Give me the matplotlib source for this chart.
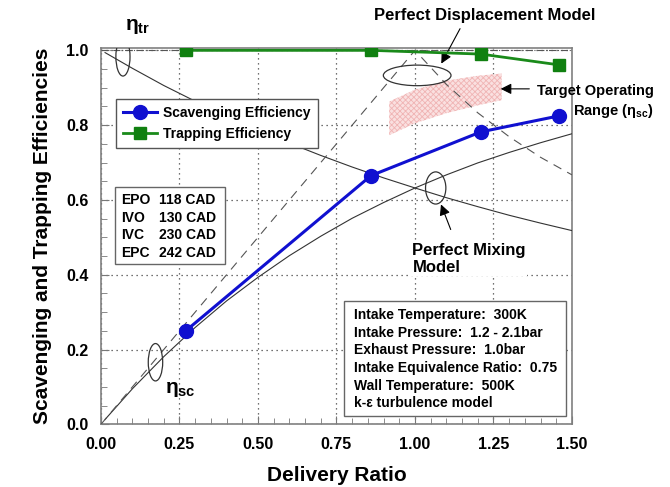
import numpy as np
import matplotlib
matplotlib.use('Agg')
import matplotlib.pyplot as plt
from matplotlib.patches import Ellipse, Rectangle

plt.rcParams['font.family'] = ['Liberation Sans', 'DejaVu Sans']
plt.rcParams['font.weight'] = 'bold'
plt.rcParams['axes.labelweight'] = 'bold'
plt.rcParams['hatch.linewidth'] = 0.6
plt.rcParams['mathtext.fontset'] = 'custom'
plt.rcParams['mathtext.rm'] = 'Liberation Sans:bold'
plt.rcParams['mathtext.it'] = 'Liberation Sans:bold'
plt.rcParams['mathtext.bf'] = 'Liberation Sans:bold'

# CFD results
delivery_ratio = [0.27, 0.86, 1.21, 1.46]
scavenging_eff = [0.25, 0.665, 0.782, 0.825]
trapping_eff = [1.0, 1.0, 0.99, 0.961]

# perfect mixing model
mix_dr = [0.013, 0.1, 0.2, 0.3, 0.4, 0.5, 0.6, 0.7, 0.8, 0.9, 1.0, 1.1, 1.2, 1.3, 1.4, 1.5]
mix_sc = [0.013, 0.095, 0.181, 0.259, 0.330, 0.393, 0.451, 0.503, 0.551, 0.593, 0.632, 0.667, 0.699, 0.727, 0.753, 0.777]
mix_tr = [0.994, 0.952, 0.906, 0.864, 0.824, 0.787, 0.752, 0.719, 0.688, 0.659, 0.632, 0.606, 0.582, 0.559, 0.538, 0.518]

# perfect displacement model (dashed curve)
disp_dr = [0.0, 1.0, 1.1, 1.2, 1.3, 1.4, 1.5]
disp_eff = [0.0, 1.0, 0.909, 0.833, 0.769, 0.714, 0.667]

# target operating range band
target_dr = [0.918, 1.0, 1.1, 1.2, 1.276]
target_lo = [0.773, 0.805, 0.832, 0.853, 0.867]
target_hi = [0.863, 0.895, 0.919, 0.932, 0.938]

valve_events = ['EPO', 'IVO', 'IVC', 'EPC']
valve_cad = ['118 CAD', '130 CAD', '230 CAD', '242 CAD']

conditions = ['Intake Temperature:  300K',
              'Intake Pressure:  1.2 - 2.1bar',
              'Exhaust Pressure:  1.0bar',
              'Intake Equivalence Ratio:  0.75',
              'Wall Temperature:  500K',
              'k-\u03b5 turbulence model']

fig = plt.figure(figsize=(6.7, 4.87), dpi=100)
ax = fig.add_axes([0.1507, 0.1287, 0.703, 0.7733])

# model curves
ax.plot(mix_dr, mix_sc, color='#333333', lw=0.8, zorder=3)
ax.plot(mix_dr, mix_tr, color='#333333', lw=0.8, zorder=3)
ax.plot(disp_dr, disp_eff, color='#555555', lw=0.8, dashes=(8, 6), zorder=3)
ax.axhline(1.0, color='#555555', lw=0.8, ls='-.', zorder=3)

ax.fill_between(target_dr, target_lo, target_hi, facecolor='#fae0e0',
                edgecolor='#f0b4b4', hatch='xxxxxx', lw=0, zorder=2)

# CFD data
ax.plot(delivery_ratio, scavenging_eff, color='#1010d0', lw=2.2, marker='o',
        ms=10, label='Scavenging Efficiency', zorder=6)
ax.plot(delivery_ratio, trapping_eff, color='#1a8a1a', lw=2.0, marker='s',
        ms=9, mfc='#108010', mec='#108010', label='Trapping Efficiency', zorder=6)

ax.set_xlim(0, 1.5)
ax.set_ylim(0, 1.007)
ax.set_xticks(np.arange(0, 1.51, 0.25))
ax.set_yticks(np.arange(0, 1.01, 0.2))
ax.set_xticklabels(['0.00', '0.25', '0.50', '0.75', '1.00', '1.25', '1.50'])
ax.set_yticklabels(['0.0', '0.2', '0.4', '0.6', '0.8', '1.0'])
ax.set_xticks(np.arange(0, 1.51, 0.05), minor=True)
ax.set_yticks(np.arange(0, 1.01, 0.05), minor=True)
ax.tick_params(which='both', direction='in', color='#777777')
ax.tick_params(which='major', length=6, labelsize=11.5, pad=9)
ax.tick_params(which='minor', length=4)
ax.grid(True, which='major', ls=(0, (1, 3)), color='#444444', lw=0.9, zorder=1)
for s in ax.spines.values():
    s.set_color('#808080')
    s.set_linewidth(1.2)

ax.set_xlabel('Delivery Ratio', fontsize=15, labelpad=10)
ax.set_ylabel('Scavenging and Trapping Efficiencies', fontsize=15, labelpad=10)

leg = ax.legend(loc='upper left', bbox_to_anchor=(0.032, 0.864), borderaxespad=0,
                fontsize=10, handlelength=2.45, handletextpad=0.45, borderpad=0.5,
                labelspacing=0.5, fancybox=False, framealpha=1, edgecolor='#555555')
leg.get_frame().set_linewidth(1.0)
leg.set_zorder(10)

# valve timing box
ax.add_patch(Rectangle((0.0297, 0.4257), 0.2333, 0.2053, transform=ax.transAxes,
                       facecolor='white', edgecolor='#666666', lw=1.0, zorder=8))
for i, (ev, cad) in enumerate(zip(valve_events, valve_cad)):
    yy = 0.5956 - i * 0.0467
    ax.text(0.0418, yy, ev, transform=ax.transAxes, fontsize=10, va='center', zorder=9)
    ax.text(0.123, yy, cad, transform=ax.transAxes, fontsize=10, va='center', zorder=9)

# conditions box
ax.add_patch(Rectangle((0.5166, 0.022), 0.4704, 0.306, transform=ax.transAxes,
                       facecolor='white', edgecolor='#666666', lw=1.0, zorder=8))
for i, line in enumerate(conditions):
    ax.text(0.537, 0.2902 - i * 0.0469, line, transform=ax.transAxes, fontsize=10,
            va='center', zorder=9)

# ellipses marking curve families
for (cx, cy, w, h) in [(0.070, 0.983, 0.045, 0.1035), (0.1736, 0.166, 0.046, 0.10),
                       (1.007, 0.933, 0.2155, 0.055), (1.066, 0.632, 0.0647, 0.086)]:
    ax.add_patch(Ellipse((cx, cy), w, h, facecolor='none', edgecolor='#333333',
                         lw=0.9, zorder=4))

ax.text(0.1157, 1.065, r'$\eta_{tr}$', fontsize=15, ha='center', va='center')
ax.text(0.252, 0.093, r'$\eta_{sc}$', fontsize=15, ha='center', va='center')

arrow = dict(arrowstyle='-|>', color='black', lw=0.8, mutation_scale=16)
ax.annotate('Perfect Displacement Model', xy=(1.0796, 0.958), xytext=(1.223, 1.092),
            fontsize=12, ha='center', va='center', annotation_clip=False,
            arrowprops=dict(arrow, relpos=(0.4, 0.0)))
ax.annotate('', xy=(1.264, 0.897), xytext=(1.373, 0.897),
            annotation_clip=False, arrowprops=arrow)
ax.text(1.761, 0.891, 'Target Operating', fontsize=10.5, ha='right', va='center',
        clip_on=False)
ax.text(1.761, 0.838, r'Range ($\eta_{sc}$)', fontsize=10.5, ha='right', va='center',
        clip_on=False)
ax.annotate('', xy=(1.0796, 0.595), xytext=(1.117, 0.514), arrowprops=arrow)
ax.text(0.992, 0.484, 'Perfect Mixing\nModel', fontsize=12, ha='left', va='top',
        linespacing=1.15, zorder=7,
        bbox=dict(facecolor='white', edgecolor='none', pad=1))

fig.savefig('out.png', dpi=100)
